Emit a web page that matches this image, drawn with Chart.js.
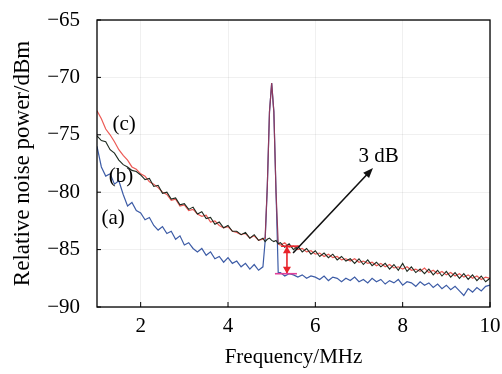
<!DOCTYPE html>
<html><head><meta charset="utf-8">
<script src="https://cdn.jsdelivr.net/npm/chart.js@4.4.1/dist/chart.umd.min.js"></script>
<style>html,body{margin:0;padding:0;background:#fff}#wrap{width:502px;height:374px}</style>
</head><body><div id="wrap"><canvas id="c" width="502" height="374"></canvas></div>
<script>
const freq = [1.0,1.1,1.2,1.3,1.4,1.5,1.6,1.7,1.8,1.9,2.0,2.1,2.2,2.3,2.4,2.5,2.6,2.7,2.8,2.9,3.0,3.1,3.2,3.3,3.4,3.5,3.6,3.7,3.8,3.9,4.0,4.1,4.2,4.3,4.4,4.5,4.6,4.7,4.8,4.85,4.9,4.95,5.0,5.05,5.1,5.15,5.2,5.3,5.4,5.5,5.6,5.7,5.8,5.9,6.0,6.1,6.2,6.3,6.4,6.5,6.6,6.7,6.8,6.9,7.0,7.1,7.2,7.3,7.4,7.5,7.6,7.7,7.8,7.9,8.0,8.1,8.2,8.3,8.4,8.5,8.6,8.7,8.8,8.9,9.0,9.1,9.2,9.3,9.4,9.5,9.6,9.7,9.8,9.9,10.0];
const seriesA = [-76.0,-77.8,-78.6,-78.4,-79.3,-79.0,-80.2,-81.2,-80.9,-81.6,-81.8,-82.4,-82.2,-82.9,-83.3,-83.0,-83.6,-83.4,-84.1,-83.8,-84.6,-84.4,-84.9,-85.2,-84.9,-85.5,-85.2,-85.8,-85.6,-86.1,-85.7,-86.2,-86.0,-86.5,-86.2,-86.7,-86.3,-86.8,-86.5,-84.3,-79.5,-73.0,-70.5,-73.0,-80.0,-87.0,-87.0,-87.3,-87.1,-87.2,-87.4,-87.2,-87.5,-87.3,-87.4,-87.6,-87.3,-87.7,-87.4,-87.5,-87.8,-87.5,-87.7,-87.4,-87.8,-87.6,-87.9,-87.5,-87.8,-87.6,-88.0,-87.7,-87.9,-87.6,-88.1,-87.8,-87.9,-88.2,-87.8,-88.1,-87.9,-88.3,-88.0,-88.4,-88.1,-88.5,-88.2,-88.6,-89.0,-88.4,-88.7,-88.3,-88.6,-88.2,-88.1];
const seriesB = [-75.1,-75.5,-75.6,-76.3,-76.6,-77.2,-77.6,-77.8,-78.1,-78.2,-78.5,-78.9,-78.8,-79.5,-79.4,-80.1,-80.0,-80.6,-80.5,-81.1,-81.0,-81.5,-81.3,-81.9,-81.7,-82.3,-82.2,-82.8,-82.6,-83.1,-82.9,-83.4,-83.4,-83.7,-83.5,-84.0,-83.7,-84.2,-84.0,-84.3,-84.1,-84.0,-84.2,-84.3,-84.2,-84.5,-84.4,-84.8,-84.5,-85.0,-84.7,-85.2,-84.9,-85.4,-85.1,-85.6,-85.3,-85.7,-85.4,-85.9,-85.6,-86.0,-85.8,-86.2,-85.8,-86.3,-85.9,-86.4,-86.1,-86.5,-86.2,-86.7,-86.3,-86.8,-86.2,-86.9,-86.5,-87.0,-86.7,-87.1,-86.7,-87.2,-86.8,-87.3,-86.9,-87.4,-87.0,-87.5,-87.1,-87.6,-87.2,-87.7,-87.3,-87.8,-87.5];
const seriesC = [-72.9,-73.6,-74.5,-75.0,-75.6,-76.3,-76.8,-77.2,-77.8,-78.0,-78.4,-78.6,-79.1,-79.3,-79.6,-80.0,-80.2,-80.7,-80.6,-81.2,-81.1,-81.6,-81.5,-81.9,-82.1,-82.0,-82.6,-82.5,-82.9,-83.1,-83.0,-83.4,-83.5,-83.7,-83.6,-84.0,-83.8,-84.2,-84.1,-84.0,-79.5,-73.0,-70.5,-73.0,-80.0,-84.5,-84.6,-84.4,-84.8,-84.7,-85.0,-84.9,-85.2,-85.1,-85.4,-85.3,-85.6,-85.4,-85.7,-85.6,-85.9,-85.8,-86.0,-85.8,-86.1,-86.0,-86.2,-86.1,-86.4,-86.2,-86.5,-86.3,-86.6,-86.5,-86.7,-86.5,-86.8,-86.7,-86.9,-86.6,-87.0,-86.8,-87.1,-86.9,-87.2,-87.0,-87.3,-87.1,-87.4,-87.2,-87.5,-87.3,-87.6,-87.4,-87.5];
const xTicks = [2,4,6,8,10];
const yTicks = [-90,-85,-80,-75,-70,-65];
const seriesLabels = ['(a)','(b)','(c)'];
const labelPos = [[1.37,-82.3],[1.55,-78.6],[1.62,-74.1]];
const bracketX = 5.35, bracketTop = -84.7, bracketBottom = -87.1;
const arrowFrom = [5.49,-85.3], arrowTo = [7.32,-77.9];
const noteText = '3 dB', notePos = [7.45,-76.9];

const FONT = "'Liberation Serif','Times New Roman',serif";
const pts = v => freq.map((f,i)=>({x:f,y:v[i]}));
const minus = v => v < 0 ? '\u2212' + Math.abs(v) : String(v);

const decor = {
  id:'decor',
  afterDraw(chart){
    const {ctx, chartArea:a, scales:{x,y}} = chart;
    ctx.save();
    ctx.strokeStyle='#000'; ctx.lineWidth=1.3;
    ctx.strokeRect(a.left, a.top, a.right-a.left, a.bottom-a.top);
    ctx.lineWidth=1;
    xTicks.forEach(t=>{const px=x.getPixelForValue(t); ctx.beginPath(); ctx.moveTo(px,a.bottom); ctx.lineTo(px,a.bottom-5); ctx.stroke();});
    yTicks.forEach(t=>{const py=y.getPixelForValue(t); ctx.beginPath(); ctx.moveTo(a.left,py); ctx.lineTo(a.left+4,py); ctx.stroke();});
    ctx.fillStyle='#000'; ctx.font="21px "+FONT; ctx.textAlign='center'; ctx.textBaseline='middle';
    seriesLabels.forEach((s,i)=>ctx.fillText(s, x.getPixelForValue(labelPos[i][0]), y.getPixelForValue(labelPos[i][1])));
    ctx.fillText(noteText, x.getPixelForValue(notePos[0]), y.getPixelForValue(notePos[1]));
    const bx=x.getPixelForValue(bracketX), bt=y.getPixelForValue(bracketTop), bb=y.getPixelForValue(bracketBottom);
    ctx.strokeStyle='#e8232a'; ctx.fillStyle='#e8232a'; ctx.lineWidth=1.6;
    ctx.beginPath(); ctx.moveTo(bx-6,bt); ctx.lineTo(bx+12,bt); ctx.stroke();
    ctx.beginPath(); ctx.moveTo(bx,bt); ctx.lineTo(bx,bb); ctx.stroke();
    ctx.beginPath(); ctx.moveTo(bx,bt); ctx.lineTo(bx-4,bt+7); ctx.lineTo(bx+4,bt+7); ctx.closePath(); ctx.fill();
    ctx.beginPath(); ctx.moveTo(bx,bb); ctx.lineTo(bx-4,bb-7); ctx.lineTo(bx+4,bb-7); ctx.closePath(); ctx.fill();
    ctx.strokeStyle='#e0409a';
    ctx.beginPath(); ctx.moveTo(bx-12,bb); ctx.lineTo(bx+10,bb); ctx.stroke();
    const x0=x.getPixelForValue(arrowFrom[0]), y0=y.getPixelForValue(arrowFrom[1]);
    const x1=x.getPixelForValue(arrowTo[0]), y1=y.getPixelForValue(arrowTo[1]);
    ctx.strokeStyle='#111'; ctx.fillStyle='#111'; ctx.lineWidth=1.6;
    const ang=Math.atan2(y1-y0,x1-x0);
    ctx.beginPath(); ctx.moveTo(x0,y0); ctx.lineTo(x1-6*Math.cos(ang),y1-6*Math.sin(ang)); ctx.stroke();
    ctx.beginPath(); ctx.moveTo(x1,y1);
    ctx.lineTo(x1-10*Math.cos(ang)+4*Math.sin(ang), y1-10*Math.sin(ang)-4*Math.cos(ang));
    ctx.lineTo(x1-10*Math.cos(ang)-4*Math.sin(ang), y1-10*Math.sin(ang)+4*Math.cos(ang));
    ctx.closePath(); ctx.fill();
    ctx.restore();
  }
};

new Chart(document.getElementById('c'), {
  type:'line',
  data:{datasets:[
    {label:'(b)', data:pts(seriesB), borderColor:'#1d2a1f', borderWidth:1.1, pointRadius:0, tension:0},
    {label:'(c)', data:pts(seriesC), borderColor:'#ec5a55', borderWidth:1.2, pointRadius:0, tension:0,
      segment:{borderColor: c => (c.p0.parsed.x>=4.85 && c.p1.parsed.x<=5.15) ? '#8e3a5e' : undefined}},
    {label:'(a)', data:pts(seriesA), borderColor:'#3d5ca6', borderWidth:1.2, pointRadius:0, tension:0}
  ]},
  options:{
    responsive:false, animation:false, devicePixelRatio:1,
    layout:{padding:{left:0,right:12,top:20,bottom:0}},
    plugins:{legend:{display:false}, tooltip:{enabled:false}},
    scales:{
      x:{type:'linear', min:1, max:10,
        afterBuildTicks: s => { s.ticks = xTicks.map(v=>({value:v})); },
        afterFit: s => { s.height = 67; s.paddingLeft = 0; s.paddingRight = 0; },
        grid:{color:'rgba(0,0,0,0.06)', drawTicks:false}, border:{display:false},
        ticks:{font:{family:FONT,size:21}, color:'#000', padding:7, maxRotation:0, callback:v=>minus(v)},
        title:{display:true, text:'Frequency/MHz', font:{family:FONT,size:21}, color:'#000', padding:{top:2}}
      },
      y:{type:'linear', min:-90, max:-65,
        afterBuildTicks: s => { s.ticks = yTicks.map(v=>({value:v})); },
        afterFit: s => { s.width = 97; s.paddingTop = 0; s.paddingBottom = 0; },
        grid:{color:'rgba(0,0,0,0.06)', drawTicks:false}, border:{display:false},
        ticks:{font:{family:FONT,size:21}, color:'#000', padding:17, callback:v=>minus(v)},
        title:{display:true, text:'Relative noise power/dBm', font:{family:FONT,size:23}, color:'#000', padding:{top:9,bottom:0}}
      }
    }
  },
  plugins:[decor]
});
</script></body></html>
